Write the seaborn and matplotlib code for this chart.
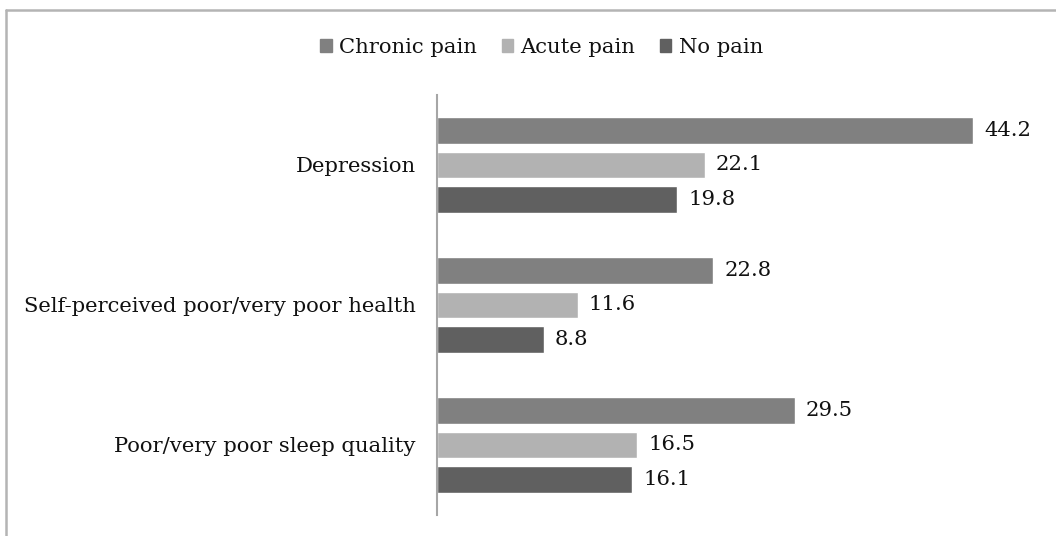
import pandas as pd
import matplotlib
matplotlib.use("Agg")
import matplotlib.pyplot as plt
from matplotlib.lines import Line2D
import seaborn as sns

# data
categories = ["Depression", "Self-perceived poor/very poor health", "Poor/very poor sleep quality"]
series = ["Chronic pain", "Acute pain", "No pain"]
chronic = [44.2, 22.8, 29.5]
acute = [22.1, 11.6, 16.5]
no_pain = [19.8, 8.8, 16.1]
colors = ["#808080", "#b2b2b2", "#606060"]

df = pd.DataFrame({
    "category": categories * 3,
    "group": [series[0]] * 3 + [series[1]] * 3 + [series[2]] * 3,
    "value": chronic + acute + no_pain,
})

sns.set_theme(style="white")
plt.rcParams["font.family"] = ["DejaVu Serif"]
FS = 15.2
TXT = "#111111"

fig = plt.figure(figsize=(10.56, 5.36), dpi=100)
ax = fig.add_axes([0.4138, 0.0392, 0.574, 0.7836])

sns.barplot(data=df, y="category", x="value", hue="group", order=categories,
            hue_order=series, palette=colors, orient="h", width=0.74, gap=0.22,
            errorbar=None, legend=False, ax=ax)

for cont in ax.containers:
    ax.bar_label(cont, fmt="%.1f", padding=8, fontsize=FS, color=TXT)

ax.set_xlim(0, 50)
ax.set_ylim(2.5, -0.5)
ax.set_xlabel("")
ax.set_ylabel("")
ax.set_xticks([])
ax.tick_params(axis="y", length=0, pad=15.5, labelsize=FS, labelcolor=TXT)
for s in ["top", "right", "bottom"]:
    ax.spines[s].set_visible(False)
ax.spines["left"].set_color("#a6a6a6")
ax.spines["left"].set_linewidth(1.5)

handles = [plt.Rectangle((0, 0), 1, 1, color=c) for c in colors]
fig.legend(handles, series, loc="center", bbox_to_anchor=(0.513, 0.912), ncol=3,
           frameon=False, fontsize=FS, handlelength=0.55, handleheight=0.55,
           handletextpad=0.35, columnspacing=1.15, labelcolor=TXT)

# outer frame (only top and left edges visible in the reference)
fig.add_artist(Line2D([6 / 1056, 1.0], [1 - 10 / 536] * 2, transform=fig.transFigure,
                      color="#b4b4b4", linewidth=1.8))
fig.add_artist(Line2D([6 / 1056] * 2, [1 - 10 / 536, 0.0], transform=fig.transFigure,
                      color="#b4b4b4", linewidth=1.8))

fig.savefig("out.png", dpi=100)
